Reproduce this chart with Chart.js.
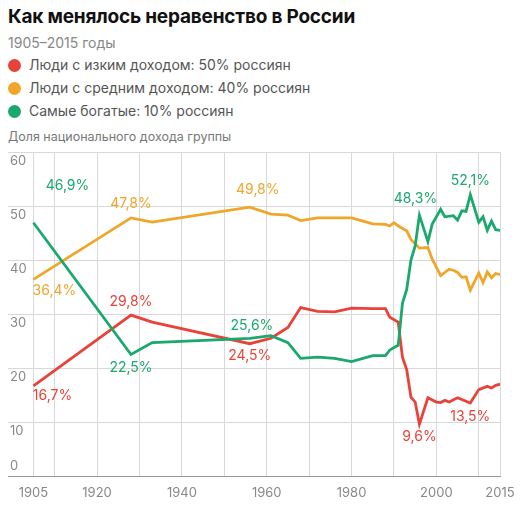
<!DOCTYPE html>
<html><head><meta charset="utf-8">
<script src="https://cdn.jsdelivr.net/npm/chart.js@4"></script>
<style>
body{margin:0;width:520px;height:511px;position:relative;font-family:Inter,"Noto Sans",sans-serif;background:#fff;overflow:hidden}
#t{position:absolute;left:8px;top:5px;font-size:19px;font-weight:700;color:#111;letter-spacing:-0.2px}
#s{position:absolute;left:8px;top:34px;font-size:14px;color:#888}
.l{position:absolute;left:8px;font-size:14px;color:#555}
.l i{display:inline-block;width:13px;height:13px;border-radius:50%;vertical-align:-2px;margin-right:8px}
#a{position:absolute;left:8px;top:129px;font-size:12.5px;color:#777}
canvas{position:absolute;left:0;top:0}
</style></head><body>
<div id="t">Как менялось неравенство в России</div>
<div id="s">1905–2015 годы</div>
<div class="l" style="top:56px"><i style="background:#e8433a"></i>Люди с изким доходом: 50% россиян</div>
<div class="l" style="top:79px"><i style="background:#f0a62a"></i>Люди с средним доходом: 40% россиян</div>
<div class="l" style="top:102px"><i style="background:#1aa86c"></i>Самые богатые: 10% россиян</div>
<div id="a">Доля национального дохода группы</div>
<canvas id="c" width="520" height="511"></canvas>
<script>
const lowYears=[1905,1928,1933,1956,1961,1965,1968,1972,1976,1980,1985,1988,1989,1991,1992,1993,1994,1995,1996,1998,2000,2001,2002,2003,2005,2008,2010,2012,2013,2014,2015];
const lowVals=[16.7,29.8,28.5,24.5,25.5,27.5,31.2,30.5,30.4,31.1,31.0,31.0,29.4,28.5,22,19.7,14.6,13.7,9.6,14.5,13.7,13.6,14.0,13.7,14.5,13.5,16.0,16.6,16.3,16.8,17.0];
const midYears=[1905,1928,1933,1956,1961,1965,1968,1972,1980,1985,1988,1989,1990,1991,1993,1994,1996,1998,1999,2001,2003,2004,2005,2006,2007,2008,2010,2011,2012,2013,2014,2015];
const midVals=[36.4,47.8,47.0,49.8,48.5,48.3,47.3,47.8,47.8,46.7,46.6,46.3,46.9,46.3,45.4,43.8,42.2,42.3,40.2,37.1,38.3,38.1,37.7,36.8,36.9,34.4,37.6,35.8,37.8,36.7,37.5,37.3];
const topYears=[1905,1928,1933,1956,1961,1965,1968,1972,1976,1980,1985,1988,1989,1990,1991,1992,1993,1994,1995,1996,1998,1999,2001,2002,2004,2005,2006,2007,2008,2010,2011,2012,2013,2014,2015];
const topVals=[46.9,22.5,24.7,25.5,26.0,24.7,21.8,22.0,21.8,21.2,22.3,22.3,23.3,23.8,24.2,32,34.5,40,42.6,48.3,43.4,46.6,49.4,48.0,48.2,47.4,49.1,49.0,52.1,47.0,48.0,45.5,47.2,45.6,45.5];
const yTicks=[0,10,20,30,40,50,60];
const xGrid=[1905,1910,1920,1930,1940,1950,1960,1970,1980,1990,2000,2010,2015];
const xLabels=[1905,1920,1940,1960,1980,2000,2015];
const RED='#e8433a',ORG='#f0a62a',GRN='#1aa86c';
const notes=[
 [1905,46.9,'46,9%',GRN,34,-37],[1905,36.4,'36,4%',ORG,21,11],[1905,16.7,'16,7%',RED,19,10],
 [1928,47.8,'47,8%',ORG,0,-14],[1928,29.8,'29,8%',RED,0,-13],[1928,22.5,'22,5%',GRN,0,13],
 [1956,49.8,'49,8%',ORG,8,-17],[1961,25.6,'25,6%',GRN,-19,-12],[1956,24.5,'24,5%',RED,0,12],
 [1996,48.3,'48,3%',GRN,-4,-16],[2008,52.1,'52,1%',GRN,0,-14],[1996,9.6,'9,6%',RED,0,13],[2008,13.5,'13,5%',RED,0,14]];
const pts=(xs,vs)=>xs.map((x,i)=>({x,y:vs[i]}));
const ds=(d,c)=>({data:d,borderColor:c,borderWidth:2.8,pointRadius:0,tension:0,fill:false});
const extra={id:'extra',afterDraw(ch){
 const g=ch.ctx,xs=ch.scales.x,ys=ch.scales.y;
 g.save();g.font='13px Inter, "Noto Sans", sans-serif';g.fillStyle='#888';
 g.textAlign='left';g.textBaseline='middle';
 yTicks.forEach(v=>g.fillText(String(v),10,ys.getPixelForValue(v)-(v===0?10:-9)));
 g.textAlign='center';
 xLabels.forEach(v=>g.fillText(String(v),xs.getPixelForValue(v),ys.bottom+17));
 g.font='14px Inter, "Noto Sans", sans-serif';
 notes.forEach(n=>{g.fillStyle=n[3];g.fillText(n[2],xs.getPixelForValue(n[0])+n[4],ys.getPixelForValue(n[1])+n[5]);});
 g.restore();}};
new Chart(document.getElementById('c'),{type:'line',
 data:{datasets:[ds(pts(topYears,topVals),GRN),ds(pts(midYears,midVals),ORG),ds(pts(lowYears,lowVals),RED)]},
 options:{responsive:false,animation:false,layout:{padding:{left:8,right:20,top:152,bottom:35}},
 plugins:{legend:{display:false},tooltip:{enabled:false}},
 scales:{x:{type:'linear',min:1899,max:2015,afterBuildTicks:a=>{a.ticks=xGrid.map(v=>({value:v}))},
   ticks:{display:false},grid:{color:'#d8d8d8',drawTicks:false},border:{display:true,color:'#999'}},
  y:{min:0,max:60,afterBuildTicks:a=>{a.ticks=yTicks.map(v=>({value:v}))},ticks:{display:false},
   grid:{color:'#d8d8d8',drawTicks:false},border:{display:false}}}},
 plugins:[extra]});
</script></body></html>
